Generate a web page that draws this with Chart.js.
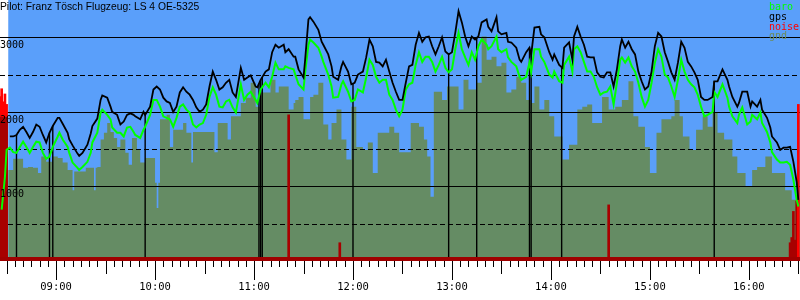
<!DOCTYPE html>
<html>
<head>
<meta charset="utf-8">
<script src="https://cdn.jsdelivr.net/npm/chart.js@4.4.0/dist/chart.umd.min.js"></script>
<style>
  body { margin: 0; background: #fff; }
  canvas { display: block; }
</style>
</head>
<body>
<canvas id="barogramm" width="800" height="300"></canvas>
<script>
const titel = "Pilot: Franz Tösch Flugzeug: LS 4 OE-5325";

// Zeitpunkte fuer baro und gps
const zeiten = [
  "08:27","08:29","08:30","08:32","08:34","08:36","08:38","08:40","08:42","08:44","08:46","08:48","08:50","08:52","08:54","08:56","08:58",
  "09:01","09:02","09:04","09:07","09:08","09:10","09:13","09:14","09:16","09:19","09:21","09:22","09:25","09:27","09:28","09:31","09:33","09:34","09:37","09:39","09:41","09:43","09:45","09:47","09:48","09:51","09:53","09:54","09:57","09:59",
  "10:01","10:03","10:05","10:07","10:09","10:11","10:13","10:15","10:17","10:19","10:21","10:23","10:25","10:27","10:29","10:31","10:33","10:35","10:37","10:39","10:41","10:43","10:45","10:47","10:49","10:52","10:54","10:56","10:58",
  "11:01","11:02","11:04","11:07","11:09","11:11","11:13","11:15","11:18","11:19","11:21","11:24","11:25","11:27","11:30","11:31","11:33","11:34","11:36","11:39","11:41","11:42","11:45","11:47","11:48","11:51","11:53","11:54","11:57","11:59",
  "12:01","12:03","12:06","12:08","12:10","12:12","12:14","12:16","12:18","12:20","12:22","12:24","12:26","12:28","12:30","12:32","12:34","12:36","12:38","12:40","12:42","12:44","12:46","12:48","12:50","12:52","12:54","12:56","12:58",
  "13:00","13:02","13:04","13:06","13:08","13:10","13:12","13:14","13:16","13:18","13:21","13:22","13:24","13:27","13:28","13:30","13:33","13:34","13:36","13:39","13:41","13:42","13:45","13:47","13:48","13:50","13:53","13:54","13:56","13:59",
  "14:01","14:02","14:05","14:07","14:08","14:11","14:13","14:14","14:16","14:18","14:20","14:22","14:24","14:26","14:28","14:30","14:32","14:34","14:36","14:38","14:40","14:42","14:43","14:45","14:47","14:49","14:51","14:53","14:55","14:57","14:59",
  "15:01","15:03","15:05","15:07","15:09","15:11","15:13","15:15","15:17","15:19","15:21","15:23","15:25","15:27","15:29","15:31","15:33","15:35","15:38","15:39","15:41","15:44","15:47","15:48","15:50","15:53","15:54","15:56","15:59",
  "16:01","16:02","16:05","16:07","16:08","16:11","16:13","16:14","16:17","16:19","16:21","16:23","16:25","16:27","16:29","16:30"
];

const gpsHoehe = [
  null,null,null,1670,1670,1690,1760,1800,1730,1650,1730,1830,1800,1690,1590,1720,1810,
  1920,1920,1840,1720,1630,1550,1440,1410,1450,1560,1710,1810,1910,2160,2220,2190,2070,2000,1960,1830,1870,1960,1980,1960,1940,1900,2000,1960,2070,2300,
  2340,2300,2190,2140,2120,2000,2070,2260,2330,2270,2230,2160,2060,2000,2030,2100,2340,2540,2430,2300,2330,2390,2430,2260,2200,2590,2430,2460,2490,
  2340,2330,2430,2540,2570,2800,2900,2860,2900,2800,2840,2740,2740,2570,2460,2700,3240,3270,3210,3100,2940,2900,2770,2610,2470,2430,2610,2670,2540,2370,
  2390,2500,2540,2730,2970,2880,2670,2660,2610,2700,2540,2390,2270,2160,2160,2390,2610,2630,2900,3060,2940,3000,3010,2880,2770,2880,3000,2810,2770,
  2800,3060,3350,3200,3010,2880,3010,2970,3010,3200,3240,3140,3080,3270,3080,3040,3060,2940,2930,2860,2700,2670,2800,2860,2760,3130,3140,3040,3000,2800,
  2700,2770,2630,2590,2860,2930,2700,3010,3140,3010,2900,2740,2730,2730,2530,2470,2460,2530,2530,2340,2570,2880,2970,2860,2940,2840,2770,2540,2410,2300,2340,
  2540,2880,3060,3010,2800,2670,2530,2430,2660,2940,2860,2670,2610,2530,2430,2200,2160,2160,2200,2410,2410,2570,2430,2340,2200,2070,2120,2270,2270,
  2070,2140,2070,2160,2030,1920,1790,1670,1590,1490,1520,1520,1530,1330,1060,820
];

const baroHoehe = [
  690,1130,1490,1520,1460,1450,1530,1600,1530,1450,1530,1600,1590,1450,1370,1400,1530,
  1670,1720,1630,1530,1450,1320,1250,1220,1260,1330,1450,1590,1720,1990,2030,1960,1900,1790,1720,1720,1670,1790,1800,1730,1690,1650,1760,1800,1960,2160,
  2160,2070,1940,1920,1900,1800,1920,2070,2100,2030,1990,1830,1790,1830,1850,1960,2200,2330,2230,2070,2060,2140,2160,2060,1990,2370,2160,2230,2270,
  2160,2120,2300,2390,2330,2470,2660,2570,2570,2610,2590,2570,2500,2370,2300,2530,2900,2970,2930,2860,2740,2670,2500,2340,2190,2200,2370,2410,2270,2140,
  2160,2300,2260,2460,2700,2630,2470,2390,2430,2430,2230,2160,2030,1940,2030,2300,2370,2390,2630,2800,2670,2740,2740,2670,2540,2630,2740,2590,2530,
  2570,2840,3060,2840,2730,2630,2800,2700,2880,2970,2900,2840,2880,3010,2840,2800,2840,2730,2670,2610,2470,2430,2470,2660,2530,2840,2840,2740,2670,2500,
  2460,2540,2410,2390,2630,2740,2540,2840,2880,2800,2670,2540,2540,2470,2330,2230,2260,2270,2340,2100,2390,2700,2730,2660,2730,2610,2540,2390,2200,2070,2160,
  2390,2660,2840,2740,2500,2460,2340,2200,2430,2700,2540,2430,2370,2330,2230,2070,1940,1960,2000,2270,2200,2370,2190,2070,1940,1850,1960,2060,1830,
  1870,1960,1900,1990,1850,1730,1590,1460,1360,1320,1320,1330,1290,1090,820,730
];

// Gelaendehoehe unter dem Flugweg (Stufen)
const gndZeiten = [
  "08:31","08:34","08:40","08:43","08:46","08:49","08:51","08:54","08:58",
  "09:01","09:04","09:07","09:10","09:11","09:18","09:23","09:24","09:25","09:27","09:29","09:31","09:33","09:35","09:37","09:39","09:42","09:44","09:46","09:49","09:51","09:54",
  "10:00","10:01","10:02","10:03","10:07","10:09","10:11","10:17","10:19","10:22","10:23","10:36","10:38","10:44","10:46","10:52","10:55","10:58",
  "11:01","11:04","11:10","11:13","11:15","11:21","11:24","11:25","11:27","11:30","11:34","11:36","11:39","11:42","11:45","11:47","11:50","11:53","11:56","11:59",
  "12:02","12:06","12:09","12:12","12:15","12:22","12:25","12:28","12:35","12:40","12:43","12:45","12:47","12:49","12:54","12:57",
  "13:04","13:07","13:10","13:15","13:18","13:21","13:24","13:27","13:30","13:33","13:36","13:39","13:42","13:45","13:48","13:50","13:53","13:56","13:59",
  "14:02","14:07","14:11","14:16","14:19","14:22","14:25","14:31","14:35","14:39","14:43","14:47","14:50","14:53","14:57",
  "15:00","15:04","15:07","15:13","15:15","15:18","15:20","15:24","15:28","15:32","15:35","15:38","15:41","15:45","15:50","15:53","15:58",
  "16:02","16:05","16:10","16:14","16:22","16:26","16:31"
];
const gndHoehe = [
  1220,1370,1250,1260,1250,1180,1400,1330,1400,
  1380,1320,1220,950,1200,1250,950,1250,1260,1630,1720,1850,1730,1650,1530,1630,1450,1290,1650,1490,1320,1380,
  1050,710,1050,1900,1960,1530,1760,1850,1720,1320,1730,1460,1850,1630,1940,2120,2190,2390,
  2070,2260,2430,2260,2340,2030,2120,2160,2200,1900,2200,2230,2390,1830,1630,1850,2030,1630,1360,2070,
  1530,1490,1590,1180,1720,1800,1720,1460,1850,1800,1630,1400,860,2270,2160,2340,
  2030,2430,2300,2390,3010,2700,2740,2610,2660,2260,2300,2470,2390,2160,2120,2340,2030,2160,1940,
  1670,1360,1560,2030,2070,2100,1850,2200,2030,2070,2160,2410,1940,1800,1530,
  1180,1720,1900,1940,2160,1940,1670,1490,1760,1940,1800,1990,1720,1630,1400,1180,1000,
  1220,1260,1400,1180,950,820,820
];

// Geraeuschpegel (0..1000), Spitzen zuerst, danach Grundpegel
const noiseZeiten = ["08:26","08:27","08:28","08:29","08:30","08:26","08:27","08:28","08:29","08:30",
                     "11:21","11:52","14:35","16:25","16:26","16:27","16:28","16:29","16:30"];
const noiseWert   = [630, 660, 610, 640, 600, 550, 550, 550, 550, 550,
                     560, 70, 215, 70, 90, 190, 80, 230, 600];

// senkrechte Markierungen
const markerZeiten = ["08:36","08:56","08:58","09:54","11:03","11:04","11:05","12:00","12:58","13:15","13:47","13:48","14:06:30","15:39"];

const stundenTicks = ["09:00","10:00","11:00","12:00","13:00","14:00","15:00","16:00"];
const hoehenVoll = [1000, 2000, 3000];
const hoehenHalb = [500, 1500, 2500];

function toMin(s) {
  const p = s.split(":").map(Number);
  return p[0] * 60 + p[1] + (p[2] || 0) / 60;
}

function gpsBei(t) {
  for (let i = 0; i < zeiten.length - 1; i++) {
    const a = toMin(zeiten[i]), b = toMin(zeiten[i + 1]);
    if (t >= a && t <= b && gpsHoehe[i] !== null && gpsHoehe[i + 1] !== null) {
      return gpsHoehe[i] + (gpsHoehe[i + 1] - gpsHoehe[i]) * (t - a) / (b - a);
    }
  }
  return 0;
}

const punkte = (ts, vs) => ts.map((t, i) => ({ x: toMin(t), y: vs[i] }));

const blau = '#5a9ffa';
const gndFarbe = '#658c64';

const zeichnen = {
  id: 'zeichnen',
  beforeDatasetsDraw(chart) {
    const { ctx, chartArea: a, scales: { x } } = chart;
    const x0 = x.getPixelForValue(toMin(gndZeiten[0]));
    ctx.save();
    ctx.fillStyle = blau;
    ctx.fillRect(x0, a.top, a.right - x0, a.bottom - a.top);
    ctx.restore();
  },
  afterDatasetDraw(chart, args) {
    if (args.index !== 0) return;
    const { ctx, chartArea: a, scales: { x, y } } = chart;
    ctx.save();
    ctx.strokeStyle = '#000';
    ctx.lineWidth = 1;
    hoehenVoll.forEach(v => {
      const py = Math.round(y.getPixelForValue(v)) + 0.5;
      ctx.beginPath(); ctx.moveTo(a.left, py); ctx.lineTo(a.right, py); ctx.stroke();
    });
    ctx.setLineDash([5, 3]);
    hoehenHalb.forEach(v => {
      const py = Math.round(y.getPixelForValue(v)) + 0.5;
      ctx.beginPath(); ctx.moveTo(a.left, py); ctx.lineTo(a.right, py); ctx.stroke();
    });
    ctx.setLineDash([]);
    ctx.lineWidth = 1.4;
    markerZeiten.forEach(s => {
      const t = toMin(s);
      const px = x.getPixelForValue(t);
      ctx.beginPath();
      ctx.moveTo(px, y.getPixelForValue(gpsBei(t)));
      ctx.lineTo(px, y.getPixelForValue(0));
      ctx.stroke();
    });
    ctx.restore();
  },
  afterDraw(chart) {
    const { ctx, chartArea: a, scales: { x, y } } = chart;
    ctx.save();
    // Grundlinie
    ctx.fillStyle = '#a00000';
    ctx.fillRect(a.left, a.bottom - 4, a.right - a.left, 4);
    // Zeitachse
    ctx.strokeStyle = '#000';
    ctx.lineWidth = 1;
    for (let t = Math.ceil(x.min / 5) * 5; t <= x.max; t += 5) {
      const px = Math.round(x.getPixelForValue(t)) + 0.5;
      const len = t % 60 === 0 ? 19 : (t % 30 === 0 ? 13 : 6);
      ctx.beginPath(); ctx.moveTo(px, a.bottom); ctx.lineTo(px, a.bottom + len); ctx.stroke();
    }
    ctx.fillStyle = '#000';
    ctx.font = '10.5px "DejaVu Sans Mono"';
    ctx.textAlign = 'center';
    ctx.textBaseline = 'alphabetic';
    stundenTicks.forEach(s => {
      ctx.fillText(s, x.getPixelForValue(toMin(s)), 290);
    });
    // Hoehenbeschriftung
    ctx.textAlign = 'left';
    ctx.font = '10px "DejaVu Sans Mono"';
    hoehenVoll.forEach(v => {
      ctx.fillText(String(v), 0, y.getPixelForValue(v) + 11);
    });
    // Titel
    ctx.font = '10.3px "Liberation Sans"';
    ctx.fillText(titel, 0, 9.5);
    // Legende
    ctx.font = '10px "DejaVu Sans Mono"';
    const leg = chart.data.datasets.slice().reverse();
    leg.forEach((d, i) => {
      ctx.fillStyle = d.legendFarbe;
      ctx.fillText(d.label, 769, 10 + i * 9.8);
    });
    ctx.restore();
  }
};

new Chart(document.getElementById('barogramm'), {
  type: 'line',
  data: {
    datasets: [
      {
        label: 'gnd', data: punkte(gndZeiten, gndHoehe), stepped: true, fill: 'origin',
        backgroundColor: gndFarbe, borderWidth: 0, pointRadius: 0, order: 4, legendFarbe: '#6c8c5c'
      },
      {
        type: 'bar', label: 'noise', data: punkte(noiseZeiten, noiseWert), yAxisID: 'yn',
        backgroundColor: c => (c.raw && c.raw.y >= 590) ? '#ff0000' : '#a80000',
        barThickness: 2, order: 3, legendFarbe: '#ff0000'
      },
      {
        label: 'gps', data: punkte(zeiten, gpsHoehe), borderColor: '#000', borderWidth: 1.8,
        pointRadius: 0, tension: 0, order: 1, legendFarbe: '#000'
      },
      {
        label: 'baro', data: punkte(zeiten, baroHoehe), borderColor: '#00ff00', borderWidth: 2,
        pointRadius: 0, tension: 0, order: 2, legendFarbe: '#00ff00'
      }
    ]
  },
  options: {
    responsive: false,
    animation: false,
    layout: { padding: { left: 0, right: 0, top: 0, bottom: 39 } },
    plugins: { legend: { display: false }, tooltip: { enabled: false } },
    scales: {
      x: { type: 'linear', min: 506, max: 991, offset: false, display: false },
      y: { min: 0, max: 3500, display: false },
      yn: { min: 0, max: 1000, display: false }
    }
  },
  plugins: [zeichnen]
});
</script>
</body>
</html>
